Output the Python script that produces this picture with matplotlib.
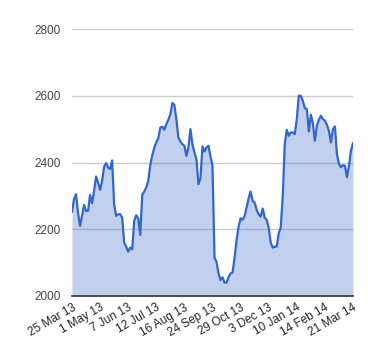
import matplotlib
matplotlib.use("Agg")
import matplotlib.pyplot as plt
import numpy as np

# price series (one value per ~2 px)
values = [2253, 2290, 2305, 2250, 2210, 2240, 2273, 2255, 2255, 2303,
          2278, 2315, 2358, 2340, 2318, 2345, 2388, 2398, 2385, 2380,
          2406, 2275, 2240, 2245, 2245, 2235, 2160, 2148, 2133, 2145,
          2140, 2225, 2242, 2232, 2183, 2303, 2313, 2325, 2346, 2393,
          2422, 2444, 2460, 2473, 2505, 2507, 2498, 2515, 2528, 2545,
          2578, 2573, 2530, 2475, 2463, 2455, 2450, 2420, 2445, 2500,
          2455, 2430, 2410, 2335, 2353, 2448, 2433, 2445, 2450, 2418,
          2390, 2115, 2102, 2068, 2048, 2056, 2040, 2040, 2056, 2068,
          2070, 2115, 2168, 2208, 2233, 2228, 2240, 2265, 2293, 2313,
          2285, 2280, 2258, 2245, 2238, 2262, 2235, 2228, 2205, 2160,
          2145, 2148, 2148, 2188, 2205, 2300, 2455, 2498, 2480, 2490,
          2490, 2485, 2530, 2600, 2600, 2585, 2563, 2560, 2493, 2543,
          2518, 2465, 2510, 2528, 2540, 2530, 2526, 2513, 2495, 2460,
          2500, 2508, 2425, 2396, 2386, 2392, 2390, 2356, 2390, 2436,
          2458]
tick_labels = ['25 Mar 13', '1 May 13', '7 Jun 13', '12 Jul 13', '16 Aug 13',
               '24 Sep 13', '29 Oct 13', '3 Dec 13', '10 Jan 14', '14 Feb 14',
               '21 Mar 14']
y_ticks = [2000, 2200, 2400, 2600, 2800]

plt.rcParams['font.family'] = ['Liberation Sans', 'DejaVu Sans']

fig = plt.figure(figsize=(3.8, 3.6), dpi=100)
ax = fig.add_axes([72/380, 1-296/360, (353-72)/380, (296-29)/360])

x = np.arange(len(values))
ax.fill_between(x, 2000, values, color='#3366CC', alpha=0.3, linewidth=0)
ax.plot(x, values, color='#3366CC', linewidth=1.6, solid_joinstyle='round')

ax.set_xlim(0, len(values) - 1)
ax.set_ylim(2000, 2800)
ax.set_yticks(y_ticks)
ax.set_yticklabels([str(v) for v in y_ticks], fontsize=8.5, color='#444444')
step = (len(values) - 1) // (len(tick_labels) - 1)
ax.set_xticks(np.arange(0, len(values), step)[:len(tick_labels)])
ax.set_xticklabels(tick_labels, rotation=30, ha='right', rotation_mode='anchor',
                   fontsize=8.5, color='#222222')
ax.tick_params(length=0, pad=8)
ax.tick_params(axis='x', pad=4)

ax.grid(axis='y', color='#CCCCCC', linewidth=1)
ax.set_axisbelow(True)
for s in ['top', 'right', 'left']:
    ax.spines[s].set_visible(False)
ax.spines['bottom'].set_color('#333333')
ax.spines['bottom'].set_linewidth(1.2)

fig.savefig('out.png', dpi=100)
